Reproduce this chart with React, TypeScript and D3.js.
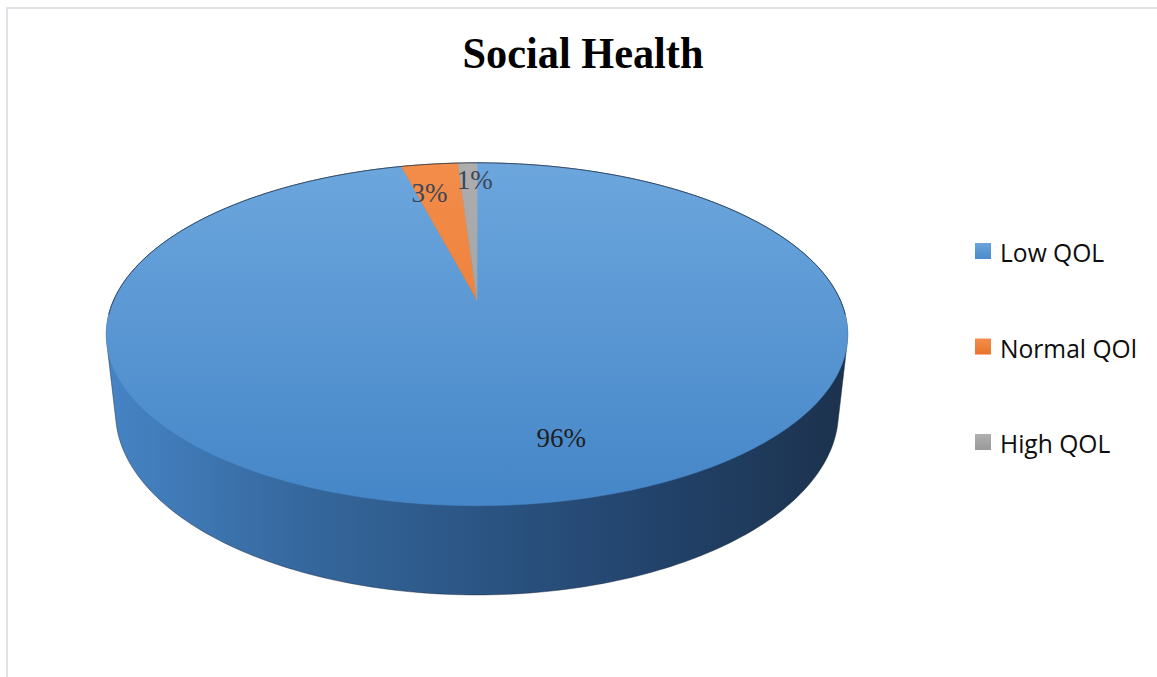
import React from "react";
import * as d3 from "d3";

const title = "Social Health";
const categories = ["Low QOL", "Normal QOl", "High QOL"];
const values = [96, 3, 1];
const valueLabels = ["96%", "3%", "1%"];
const topColors = [
  ["#6ca6dd", "#4586c8"],
  ["#f38d4a", "#e8742a"],
  ["#adadad", "#9c9c9c"],
];
const legendColors = [
  ["#6aa5dc", "#4a8acb"],
  ["#f38d4a", "#e8742a"],
  ["#b0b0b0", "#999999"],
];
// label placement (radius on the top face, pixel nudge)
const labelRadius = [0.72, 0.76, 0.86];
const labelNudge = [46, -10, 6];
const labelColors = ["#1e1e1e", "#3d4656", "#3d4656"];

const W = 1157;
const H = 677;

// perspective camera for the 3D pie
const CX = 477;
const CY = 300;
const F = 1620;
const DIST = 4.46;
const TILT = (26.94 * Math.PI) / 180;
const THICK = 0.243;
const S = Math.sin(TILT);
const C = Math.cos(TILT);

function proj(X: number, Y: number, Z: number): [number, number] {
  const depth = DIST + Z * C - Y * S;
  const up = Y * C + Z * S;
  return [CX + (F * X) / depth, CY - (F * up) / depth];
}
function rim(phi: number, y: number, r = 1): [number, number] {
  return proj(r * Math.sin(phi), y, r * Math.cos(phi));
}

export default function App() {
  const pie = d3
    .pie<number>()
    .sort(null)
    .startAngle(0)
    .endAngle(2 * Math.PI)
    .value((d) => d);
  const arcs = pie(values);

  const line = d3.line();

  // side: convex hull of top and bottom rims
  const pts: [number, number][] = [];
  for (let i = 0; i < 360; i++) {
    const a = (i / 360) * 2 * Math.PI;
    pts.push(rim(a, 0));
    pts.push(rim(a, -THICK));
  }
  const hull = d3.polygonHull(pts) as [number, number][];
  const hullPath = line(hull) + "Z";

  const topRim: [number, number][] = [];
  for (let i = 0; i <= 360; i++) topRim.push(rim((i / 360) * 2 * Math.PI, 0));
  const xs = topRim.map((p) => p[0]);
  const ys = topRim.map((p) => p[1]);
  const x0 = d3.min(xs)!;
  const x1 = d3.max(xs)!;
  const y0 = d3.min(ys)!;
  const y1 = d3.max(ys)!;

  const apex = proj(0, 0, 0);
  const slicePaths = arcs.map((a) => {
    const n = Math.max(4, Math.ceil(((a.endAngle - a.startAngle) / (2 * Math.PI)) * 360));
    const p: [number, number][] = [apex];
    for (let i = 0; i <= n; i++) {
      const t = a.startAngle + ((a.endAngle - a.startAngle) * i) / n;
      p.push(rim(t, 0));
    }
    return line(p) + "Z";
  });

  // back edge outline
  const backEdge: [number, number][] = [];
  for (let i = -95; i <= 95; i++) backEdge.push(rim((i / 180) * Math.PI, 0));

  const labelPos = arcs.map((a, i) => {
    const mid = (a.startAngle + a.endAngle) / 2;
    const p = rim(mid, 0, labelRadius[i]);
    return [p[0] + labelNudge[i], p[1]];
  });

  const legendY = d3
    .scalePoint<string>()
    .domain(categories)
    .range([251, 442]);

  return (
    <svg
      width={W}
      height={H}
      style={{ position: "absolute", left: 0, top: 0, background: "#fff" }}
    >
      <defs>
        <linearGradient id="sideGrad" gradientUnits="userSpaceOnUse" x1={x0} y1={0} x2={x1} y2={0}>
          <stop offset="0%" stopColor="#4684c6" />
          <stop offset="25%" stopColor="#36699f" />
          <stop offset="50%" stopColor="#2b5584" />
          <stop offset="75%" stopColor="#22426a" />
          <stop offset="100%" stopColor="#1c324d" />
        </linearGradient>
        {topColors.map((c, i) => (
          <linearGradient key={i} id={"topGrad" + i} gradientUnits="userSpaceOnUse" x1={0} y1={y0} x2={0} y2={y1}>
            <stop offset="0%" stopColor={c[0]} />
            <stop offset="100%" stopColor={c[1]} />
          </linearGradient>
        ))}
        {legendColors.map((c, i) => (
          <linearGradient key={i} id={"legGrad" + i} x1="0" y1="0" x2="0" y2="1">
            <stop offset="0%" stopColor={c[0]} />
            <stop offset="100%" stopColor={c[1]} />
          </linearGradient>
        ))}
      </defs>

      <path d={`M7,${H} V8 H${W}`} fill="none" stroke="#dfe3e8" strokeWidth={2} />

      <text
        x={583}
        y={68}
        textAnchor="middle"
        fontFamily="'Liberation Serif', 'Times New Roman', serif"
        fontWeight="bold"
        fontSize={45}
        textLength={241}
        lengthAdjust="spacingAndGlyphs"
        fill="#000"
      >
        {title}
      </text>

      <path d={hullPath} fill="url(#sideGrad)" stroke="#1d2a3a" strokeWidth={0.8} strokeOpacity={0.6} />
      {slicePaths.map((d, i) => (
        <path key={i} d={d} fill={`url(#topGrad${i})`} stroke={`url(#topGrad${i})`} strokeWidth={0.5} />
      ))}
      <path d={line(backEdge)!} fill="none" stroke="#23344a" strokeWidth={1} strokeOpacity={0.75} />

      {labelPos.map((p, i) => (
        <text
          key={i}
          x={p[0]}
          y={p[1]}
          dy="0.35em"
          textAnchor="middle"
          fontFamily="'Liberation Serif', 'Times New Roman', serif"
          fontSize={27}
          fill={labelColors[i]}
        >
          {valueLabels[i]}
        </text>
      ))}

      {categories.map((c, i) => {
        const cy = legendY(c)!;
        return (
          <g key={c}>
            <rect x={975} y={cy - 8} width={16} height={16} fill={`url(#legGrad${i})`} />
            <text
              x={1000}
              y={cy + 11}
              fontFamily="'Open Sans', 'Noto Sans', sans-serif"
              fontSize={24.6}
              fill="#0d0d0d"
            >
              {c}
            </text>
          </g>
        );
      })}
    </svg>
  );
}
